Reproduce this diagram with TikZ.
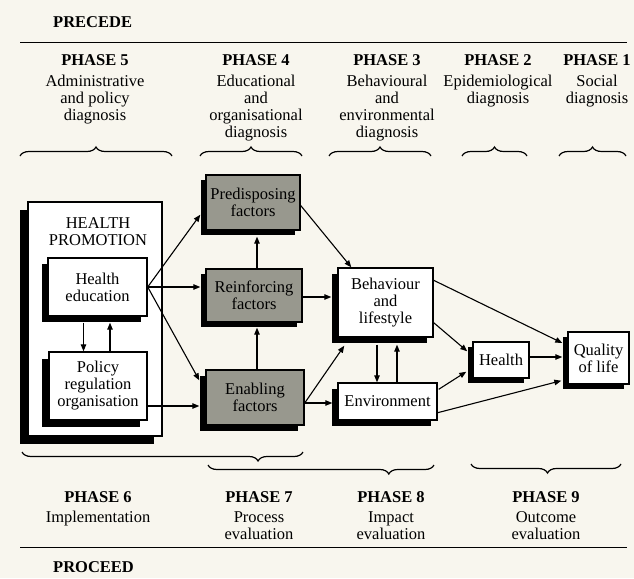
\documentclass[tikz,border=0pt]{standalone}
\usepackage{fontspec}
\setmainfont{Liberation Serif}
\usetikzlibrary{arrows.meta,shadows,calc,decorations.pathreplacing}
\definecolor{boxgray}{RGB}{152,152,142}
\definecolor{paper}{RGB}{248,246,238}
\newcommand\bodyfs{\fontsize{16.5}{17}\selectfont}
\tikzset{
  box/.style={draw, line width=1.4pt, fill=white, inner sep=0pt, align=center, font=\bodyfs},
  gbox/.style={box, fill=boxgray},
  shad/.style={general shadow={fill=black, shadow xshift=-#1pt, shadow yshift=-#1pt}},
  arr/.style={-{Triangle[length=7pt,width=5.5pt]}, line width=1.1pt},
  brc/.style={decorate, decoration={brace, amplitude=9pt, aspect=#1}, line width=1.2pt},
  brc/.default=0.5,
  col/.style={anchor=north, align=center, inner sep=0pt, font=\bodyfs},
  ttl/.style={anchor=base west, inner sep=0pt, font=\bodyfs\bfseries},
  rule/.style={line width=1.8pt}
}
\begin{document}
\begin{tikzpicture}[x=1pt,y=-1pt]
\useasboundingbox (0,0) rectangle (634,578);
\fill[paper] (0,0) rectangle (634,578);

% titles and rules
\node[ttl] (precede) at (53,27.5) {PRECEDE};
\coordinate (r1a) at (20,42.5);
\coordinate (r1b) at (627,42.5);
\draw[rule] (r1a) -- (r1b);
\node[ttl] (proceed) at (53,572.5) {PROCEED};
\coordinate (r2a) at (20,547.5);
\coordinate (r2b) at (627,547.5);
\draw[rule] (r2a) -- (r2b);

% top phase headings
\node[col] (p5) at (95,54.5) {\textbf{PHASE 5}\\[3.5pt]Administrative\\and policy\\diagnosis};
\node[col] (p4) at (256,54.5) {\textbf{PHASE 4}\\[3.5pt]Educational\\and\\organisational\\diagnosis};
\node[col] (p3) at (387,54.5) {\textbf{PHASE 3}\\[3.5pt]Behavioural\\and\\environmental\\diagnosis};
\node[col] (p2) at (498,54.5) {\textbf{PHASE 2}\\[3.5pt]Epidemiological\\diagnosis};
\node[col] (p1) at (597,54.5) {\textbf{PHASE 1}\\[3.5pt]Social\\diagnosis};

% top braces
\coordinate (b1a) at (20,156);  \coordinate (b1b) at (172,156);
\coordinate (b2a) at (200,156); \coordinate (b2b) at (302,156);
\coordinate (b3a) at (329,156); \coordinate (b3b) at (431,156);
\coordinate (b4a) at (462,156); \coordinate (b4b) at (527,156);
\coordinate (b5a) at (559,156); \coordinate (b5b) at (626,156);
\draw[brc] (b1a) -- (b1b);
\draw[brc] (b2a) -- (b2b);
\draw[brc] (b3a) -- (b3b);
\draw[brc] (b4a) -- (b4b);
\draw[brc] (b5a) -- (b5b);

% bottom braces
\coordinate (b6a) at (303,452); \coordinate (b6b) at (22,452);
\coordinate (b7a) at (434,465); \coordinate (b7b) at (208,465);
\coordinate (b8a) at (621,464); \coordinate (b8b) at (471,464);
\draw[brc=0.16] (b6a) -- (b6b);
\draw[brc=0.2] (b7a) -- (b7b);
\draw[brc=0.49] (b8a) -- (b8b);

% bottom phase headings
\node[col] (p6) at (98,491.5) {\textbf{PHASE 6}\\[2.5pt]Implementation};
\node[col] (p7) at (259,491.5) {\textbf{PHASE 7}\\[2.5pt]Process\\evaluation};
\node[col] (p8) at (391,491.5) {\textbf{PHASE 8}\\[2.5pt]Impact\\evaluation};
\node[col] (p9) at (546,491.5) {\textbf{PHASE 9}\\[2.5pt]Outcome\\evaluation};

% boxes
\node[box, shad=8, minimum width=134pt, minimum height=234pt] (hp) at (95,319) {};
\node[font=\bodyfs, align=center, inner sep=0pt] (hpt) at (98,232) {HEALTH\\PROMOTION};
\node[box, shad=6, minimum width=99pt, minimum height=58pt] (he) at (97.5,287) {Health\\education};
\node[box, shad=7, minimum width=98pt, minimum height=68pt] (po) at (98,386) {Policy\\regulation\\organisation};
\node[gbox, shad=5, minimum width=94pt, minimum height=55pt] (pd) at (253,202.5) {Predisposing\\factors};
\node[gbox, shad=5, minimum width=96pt, minimum height=53pt] (rf) at (254,295.5) {Reinforcing\\factors};
\node[gbox, shad=6, minimum width=98pt, minimum height=55pt] (en) at (255,397.5) {Enabling\\factors};
\node[box, shad=6, minimum width=95pt, minimum height=69pt] (bl) at (385.5,302.5) {Behaviour\\and\\lifestyle};
\node[box, shad=6, minimum width=99pt, minimum height=37pt] (ev) at (387.5,401.5) {Environment};
\node[box, shad=5, minimum width=56pt, minimum height=36pt] (hl) at (501,360) {Health};
\node[box, shad=5, minimum width=61pt, minimum height=52pt] (ql) at (598.5,358) {Quality\\of life};

% helper coordinates (shadow edges)
\coordinate (rfin) at ($(rf.west)+(-5,0)$);
\coordinate (enin) at ($(en.west)+(-6,0)$);
\coordinate (hesb) at ($(he.south)+(0,6)$);
\coordinate (pdsb) at ($(pd.south)+(0,6)$);
\coordinate (rfsb) at ($(rf.south)+(0,5)$);
\coordinate (blin) at ($(bl.west)+(-6,0)$);
\coordinate (blsb) at ($(bl.south)+(0,7)$);
\coordinate (evin) at ($(ev.west)+(-5,0)$);
\coordinate (qlin) at ($(ql.west)+(-5,0)$);

% connectors
\draw[arr] (he.east) -- ($(pd.south west)+(-5,-16)$);
\draw[arr] (he.east) -- (he.east -| rfin);
\draw[arr] (he.east) -- ($(en.north west)+(-6,11)$);
\draw[arr] ($(he.south)+(-14,6)$) coordinate (hed) -- (hed |- po.north);
\draw[arr] ($(po.north)+(12,0)$) coordinate (pou) -- (pou |- hesb);
\draw[arr] ($(po.east)+(0,20)$) coordinate (poe) -- (poe -| enin);
\draw[arr] ($(rf.north)+(3,0)$) coordinate (rfu) -- (rfu |- pdsb);
\draw[arr] ($(en.north)+(2,0)$) coordinate (enu) -- (enu |- rfsb);
\draw[arr] ($(pd.east)+(0,3)$) -- ($(bl.north west)+(14,0)$);
\draw[arr] ($(rf.east)+(0,1.5)$) coordinate (rfe) -- (rfe -| blin);
\draw[arr] ($(en.east)+(0,5.5)$) -- ($(bl.south west)+(7,8)$);
\draw[arr] ($(en.east)+(0,5.5)$) coordinate (ene) -- (ene -| evin);
\draw[arr] ($(bl.south)+(-8.5,7)$) coordinate (bld) -- (bld |- ev.north);
\draw[arr] ($(ev.north)+(9.5,0)$) coordinate (evu) -- (evu |- blsb);
\draw[arr] ($(bl.north east)+(0,13)$) -- ($(ql.west)+(-5,-15)$);
\draw[arr] ($(bl.south east)+(0,-15)$) -- ($(hl.north west)+(-5,10)$);
\draw[arr] ($(ev.north east)+(1,7)$) -- ($(hl.south west)+(-6,-7)$);
\draw[arr] ($(hl.east)+(0,-3)$) coordinate (hle) -- (hle -| qlin);
\draw[arr] ($(ev.south east)+(0,-8)$) -- ($(ql.south west)+(-6,-4)$);
\end{tikzpicture}
\end{document}
